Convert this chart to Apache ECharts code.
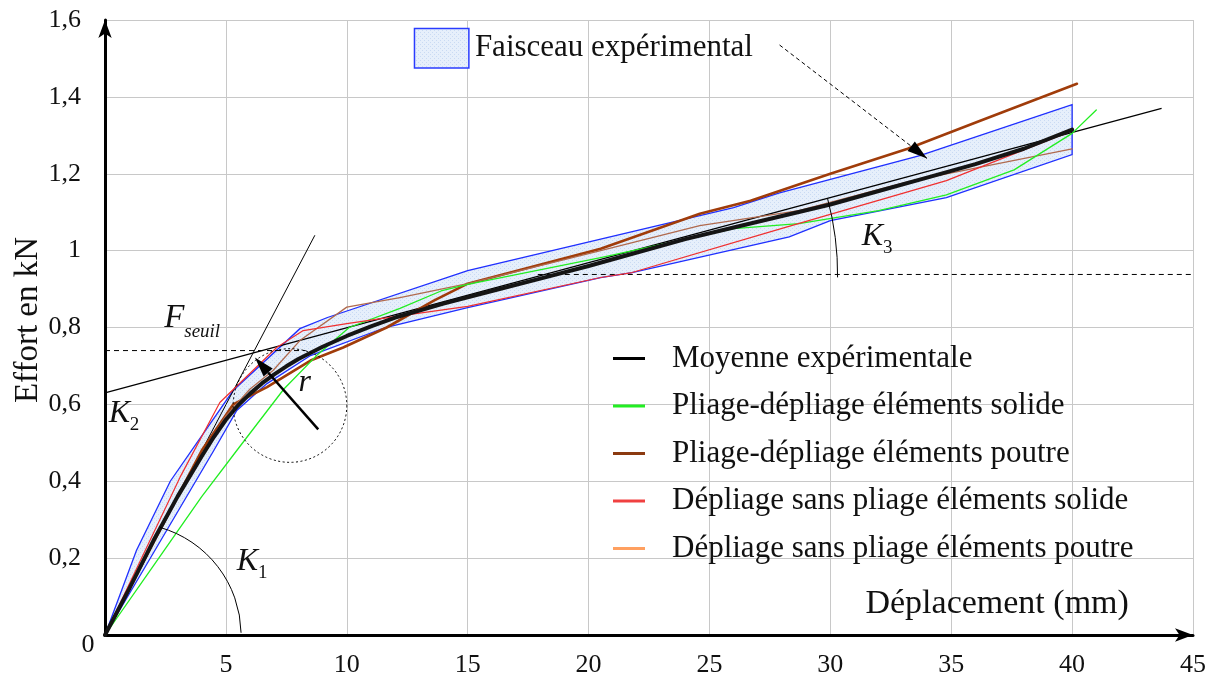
<!DOCTYPE html>
<html><head><meta charset="utf-8">
<script src="https://cdn.jsdelivr.net/npm/echarts@6/dist/echarts.min.js"></script>
<style>html,body{margin:0;padding:0;background:#fff}#c{width:1213px;height:682px}</style>
</head><body><div id="c"></div>
<script>
// ---- data ----
const xTicks = [0,5,10,15,20,25,30,35,40,45];
const yTicks = ['0','0,2','0,4','0,6','0,8','1','1,2','1,4','1,6'];

const meanX = [0,1,2,3,4,4.5,5,5.5,6,6.5,7,7.5,8,9,10,11,12,14,16,18,20,22,24,26,28,30,32,34,36,38,40];
const meanY = [0,0.12,0.245,0.36,0.465,0.515,0.56,0.597,0.628,0.655,0.678,0.699,0.718,0.75,0.778,0.803,0.826,0.862,0.895,0.927,0.96,0.995,1.03,1.06,1.09,1.12,1.155,1.19,1.225,1.265,1.315];

const greenX = [0,2,4,5.45,7.4,8.8,10.1,12.2,13.9,15,20.5,26,28.7,32,34.8,37.6,40,41];
const greenY = [0,0.18,0.36,0.48,0.64,0.73,0.80,0.85,0.895,0.912,0.982,1.057,1.07,1.104,1.145,1.21,1.305,1.366];

const brownX = [0,2,4,5.3,6.7,8.5,9.85,11.65,13.6,15,20.5,24.6,26.7,30,33.2,36.2,40.2];
const brownY = [0,0.24,0.48,0.60,0.645,0.714,0.748,0.80,0.87,0.914,1.005,1.096,1.13,1.2,1.265,1.338,1.434];

const redX = [0,3.1,4.75,7.1,8.2,10,12.2,15,20.5,21.8,28,34.8,39.8];
const redY = [0,0.41,0.605,0.748,0.792,0.81,0.83,0.855,0.93,0.943,1.058,1.182,1.307];

const orangeX = [0,2,4,5,6,6.95,8.06,10,10.8,12.2,15,20.5,24.6,28.7,33.4,40];
const orangeY = [0,0.245,0.47,0.57,0.64,0.688,0.766,0.853,0.862,0.878,0.914,1.0,1.065,1.104,1.182,1.265];

const bandUpX = [0,1.3,2.7,5.3,8.06,9.2,15,20.5,26,27.9,33.7,40];
const bandUpY = [0,0.22,0.40,0.636,0.797,0.826,0.948,1.03,1.112,1.15,1.247,1.38];
const bandLoX = [0,4.5,5.45,6.7,8.5,11.6,15,20.5,21.8,28.3,30,34.8,40];
const bandLoY = [0,0.48,0.584,0.654,0.727,0.80,0.852,0.93,0.943,1.036,1.078,1.138,1.25];

// annotation lines
const k1LineX = [0,8.68], k1LineY = [0,1.04];
const k23LineX = [0,43.7], k23LineY = [0.63,1.37];
const fseuilX = [0,8.3], fseuilY = [0.74,0.74];
const k3DashX = [17.9,45.8], k3DashY = [0.938,0.938];

const names = ['Moyenne expérimentale','Pliage-dépliage éléments solide','Pliage-dépliage éléments poutre','Dépliage sans pliage éléments solide','Dépliage sans pliage éléments poutre'];

const zip = (a,b)=>a.map((v,i)=>[v,b[i]]);
const FONT = 'Liberation Serif';

// band polygon
const bandPoly = zip(bandUpX,bandUpY).concat(zip(bandLoX,bandLoY).reverse());

// pattern
const pc = document.createElement('canvas'); pc.width=4; pc.height=4;
const pctx = pc.getContext('2d');
pctx.fillStyle='#e6effb'; pctx.fillRect(0,0,4,4);
pctx.fillStyle='#c9daf3'; pctx.fillRect(0,0,1,1); pctx.fillRect(2,2,1,1);

const chart = echarts.init(document.getElementById('c'), null, {renderer:'canvas'});

function lineSeries(name, xs, ys, color, width, z){
  return {name, type:'line', data: zip(xs,ys), showSymbol:false, symbol:'none', smooth:false,
    lineStyle:{color, width, join:'round', cap:'round'}, itemStyle:{color}, z: z||3, animation:false};
}
function annoLine(xs, ys, type, width){
  return {type:'line', data: zip(xs,ys), showSymbol:false, symbol:'none', clip:false,
    lineStyle:{color:'#000', width: width||1, type: type||'solid'}, z:2, animation:false, silent:true, legendHoverLink:false};
}

const option = {
  animation:false,
  grid:{left:105, right:20, top:20, bottom:47, containLabel:false},
  xAxis:{type:'value', min:0, max:45, interval:5,
    axisLine:{show:true, onZero:false, lineStyle:{color:'#000', width:3}, symbol:['none','arrow'], symbolSize:[10,18]},
    axisTick:{show:false},
    axisLabel:{fontFamily:FONT, fontSize:26, color:'#111', margin:17, formatter:v=> v===0?'':String(v)},
    splitLine:{show:true, lineStyle:{color:'#c8c8c8', width:1}}},
  yAxis:{type:'value', min:0, max:1.6, interval:0.2,
    axisLine:{show:true, onZero:false, lineStyle:{color:'#000', width:3}, symbol:['none','arrow'], symbolSize:[10,18]},
    axisTick:{show:false},
    axisLabel:{fontFamily:FONT, fontSize:26, color:'#111', margin:24, formatter:v=>{const i=Math.round(v/0.2); return i===0?'':yTicks[i];}},
    splitLine:{show:true, lineStyle:{color:'#c8c8c8', width:1}}},
  legend:{orient:'vertical', left:608, top:338, itemGap:16.5, itemWidth:32, itemHeight:3, icon:'rect',
    textStyle:{fontFamily:FONT, fontSize:31, color:'#111', padding:[0,0,0,22]},
    data:[
      {name:names[0], itemStyle:{color:'#000'}},
      {name:names[1], itemStyle:{color:'#22ee22'}},
      {name:names[2], itemStyle:{color:'#8b3a10'}},
      {name:names[3], itemStyle:{color:'#f04040'}},
      {name:names[4], itemStyle:{color:'#ffa060'}}
    ]},
  series:[
    {type:'custom', name:'Faisceau', data: bandPoly, z:1, animation:false, silent:true,
      renderItem:(params, api)=>{
        if(params.dataIndex!==0) return null;
        const pts = bandPoly.map(p=>api.coord(p));
        return {type:'polygon', shape:{points:pts}, style:{fill:{image:pc, repeat:'repeat'}, stroke:'#1f2fff', lineWidth:1.3}};
      }},
    annoLine(k1LineX,k1LineY,'solid',1),
    annoLine(k23LineX,k23LineY,'solid',1.2),
    annoLine(fseuilX,fseuilY,[5,4],1),
    annoLine(k3DashX,k3DashY,[5,4],1),
    lineSeries(names[2], brownX, brownY, '#a03c0a', 2.6, 3),
    lineSeries(names[4], orangeX, orangeY, '#b06a4e', 1.3, 3),
    lineSeries(names[1], greenX, greenY, '#22ee22', 1.3, 4),
    lineSeries(names[3], redX, redY, '#f03030', 1.2, 4),
    lineSeries(names[0], meanX, meanY, '#151515', 4, 5)
  ]
};
chart.setOption(option);

// annotations placed via data coordinates
const P = (x,y)=>chart.convertToPixel({gridIndex:0},[x,y]);
function arrowHead(tip, tail, len, w){
  const dx=tip[0]-tail[0], dy=tip[1]-tail[1], L=Math.hypot(dx,dy), ux=dx/L, uy=dy/L;
  const bx=tip[0]-ux*len, by=tip[1]-uy*len;
  return [[tip[0],tip[1]],[bx-uy*w, by+ux*w],[bx+uy*w, by-ux*w]];
}
const g = [];
// K1 arc
{
  const c = P(1,0), top = P(2.27,0.28);
  const r = Math.hypot(top[0]-c[0], top[1]-c[1]);
  const a0 = Math.atan2(top[1]-c[1], top[0]-c[0]);
  g.push({type:'arc', shape:{cx:c[0], cy:c[1], r, startAngle:a0, endAngle:-0.02, clockwise:true}, style:{stroke:'#000', fill:null, lineWidth:1}, z:10});
}
// K3 arc
{
  const c = P(18.2,0.938), bot = P(30.3,0.938);
  const r = bot[0]-c[0];
  const a0 = -Math.atan2(P(18.2,0.938)[1]-P(30,1.1374)[1], P(30,1.1374)[0]-c[0]);
  g.push({type:'arc', shape:{cx:c[0], cy:c[1], r, startAngle:a0, endAngle:0.01, clockwise:true}, style:{stroke:'#000', fill:null, lineWidth:1}, z:10});
}
// dotted circle
{
  const c = P(7.65,0.597), e = P(10.0,0.597);
  g.push({type:'circle', shape:{cx:c[0], cy:c[1], r:e[0]-c[0]}, style:{stroke:'#000', fill:null, lineWidth:1, lineDash:[2,2.5]}, z:10});
}
// r arrow
{
  const tail = P(8.82,0.535), tip = P(6.2,0.722);
  const head = arrowHead(tip, tail, 20, 6);
  const base = [(head[1][0]+head[2][0])/2,(head[1][1]+head[2][1])/2];
  g.push({type:'line', shape:{x1:tail[0], y1:tail[1], x2:base[0], y2:base[1]}, style:{stroke:'#000', lineWidth:2.5}, z:11});
  g.push({type:'polygon', shape:{points:head}, style:{fill:'#000'}, z:11});
}
// Faisceau pointer arrow
{
  const tail = P(27.9,1.535), tip = P(34.0,1.24);
  const head = arrowHead(tip, tail, 20, 6);
  g.push({type:'line', shape:{x1:tail[0], y1:tail[1], x2:tip[0], y2:tip[1]}, style:{stroke:'#000', lineWidth:1, lineDash:[4,3]}, z:11});
  g.push({type:'polygon', shape:{points:head}, style:{fill:'#000'}, z:11});
}
// Faisceau legend box
{
  const tl = P(12.8,1.578), br = P(15.05,1.475);
  g.push({type:'rect', shape:{x:tl[0], y:tl[1], width:br[0]-tl[0], height:br[1]-tl[1]}, style:{fill:{image:pc, repeat:'repeat'}, stroke:'#2a3cff', lineWidth:1.5}, z:11});
  g.push({type:'text', x:br[0]+6, y:(tl[1]+br[1])/2, style:{text:'Faisceau expérimental', font:'31px "Liberation Serif"', fill:'#111', textVerticalAlign:'middle', textAlign:'left'}, z:11});
}
function italicLabel(x, y, main, sub, size, subSize, dy, dx){
  const p = P(x,y);
  g.push({type:'text', x:p[0], y:p[1], style:{text:main, font:'italic '+size+'px "Liberation Serif"', fill:'#111', textVerticalAlign:'bottom', textAlign:'left'}, z:12});
  if(sub){
    g.push({type:'text', x:p[0]+(dx||size*0.66), y:p[1]+dy, style:{text:sub, font:(sub==='seuil'?'italic ':'')+subSize+'px "Liberation Serif"', fill:'#111', textVerticalAlign:'bottom', textAlign:'left'}, z:12});
  }
}
italicLabel(5.45,0.15,'K','1',32,19,5);
italicLabel(0.15,0.535,'K','2',32,19,5);
italicLabel(31.3,0.995,'K','3',32,19,5);
italicLabel(2.45,0.78,'F','seuil',33,19,6,20);
{
  const p = P(8.0,0.615);
  g.push({type:'text', x:p[0], y:p[1], style:{text:'r', font:'italic 32px "Liberation Serif"', fill:'#111', textVerticalAlign:'bottom', textAlign:'left'}, z:12});
}
// corner zero
{
  const p = P(0,0);
  g.push({type:'text', x:p[0]-17, y:p[1]+10, style:{text:'0', font:'26px "Liberation Serif"', fill:'#111', textVerticalAlign:'middle', textAlign:'center'}, z:12});
}
// axis titles
{
  const p = P(36.9,0.08);
  g.push({type:'text', x:p[0], y:p[1], style:{text:'Déplacement (mm)', font:'34px "Liberation Serif"', fill:'#111', textVerticalAlign:'middle', textAlign:'center'}, z:12});
  g.push({type:'text', x:28, y:320, rotation:Math.PI/2, style:{text:'Effort en kN', font:'33px "Liberation Serif"', fill:'#111', textVerticalAlign:'middle', textAlign:'center'}, z:12});
}
chart.setOption({graphic:{elements:g}});
</script></body></html>
